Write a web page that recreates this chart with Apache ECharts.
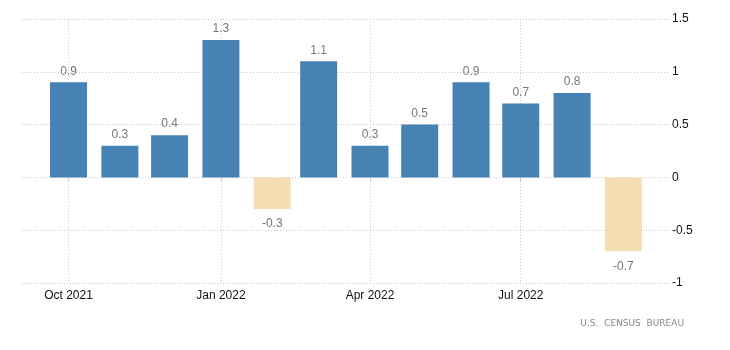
<!DOCTYPE html>
<html><head><meta charset="utf-8">
<script src="https://cdn.jsdelivr.net/npm/echarts@6/dist/echarts.min.js"></script>
<style>html,body{margin:0;padding:0;background:#fff}#c{width:730px;height:350px}</style>
</head><body><div id="c"></div>
<script>
const months = ['2021-10-01','2021-11-01','2021-12-01','2022-01-01','2022-02-01','2022-03-01','2022-04-01','2022-05-01','2022-06-01','2022-07-01','2022-08-01','2022-09-01'];
const values = [0.9, 0.3, 0.4, 1.3, -0.3, 1.1, 0.3, 0.5, 0.9, 0.7, 0.8, -0.7];
const tickDates = ['2021-10-01','2022-01-01','2022-04-01','2022-07-01'];
const tickLabels = ['Oct 2021','Jan 2022','Apr 2022','Jul 2022'];
const yTicks = [-1, -0.5, 0, 0.5, 1, 1.5];

const DAY = 86400000;
const base = new Date('2021-10-01T00:00:00Z').getTime();
const day = d => Math.round((new Date(d + 'T00:00:00Z').getTime() - base) / DAY);
const tickDays = tickDates.map(day);

const chart = echarts.init(document.getElementById('c'));
chart.setOption({
  animation: false,
  textStyle: {fontFamily: 'Liberation Sans, Arial, sans-serif'},
  grid: {left: 22, right: 61, top: 19, bottom: 67},
  xAxis: {
    type: 'value',
    min: -28.1,
    max: day('2022-09-01') + 27.5,
    axisLine: {show: false},
    axisTick: {show: true, length: 4, lineStyle: {color: '#ccc'}, customValues: tickDays},
    axisLabel: {
      customValues: tickDays,
      color: '#111', fontSize: 12, margin: 7,
      formatter: v => { const i = tickDays.indexOf(v); return i >= 0 ? tickLabels[i] : ''; }
    },
    splitLine: {show: true, lineStyle: {color: '#c8c8c8', type: [1, 2], width: 1}}
  },
  yAxis: {
    type: 'value', position: 'right',
    min: yTicks[0], max: yTicks[yTicks.length - 1], interval: 0.5,
    axisLine: {show: false}, axisTick: {show: false},
    axisLabel: {color: '#111', fontSize: 12, margin: 3, formatter: v => String(v)},
    splitLine: {show: true, lineStyle: {color: '#c8c8c8', type: [1, 2], width: 1}}
  },
  series: [{
    type: 'bar',
    barWidth: 37,
    data: months.map((m, i) => ({
      value: [day(m), values[i]],
      itemStyle: {color: values[i] >= 0 ? '#4682b4' : '#f5deb3'},
      label: {show: true, position: values[i] >= 0 ? 'top' : 'bottom', distance: values[i] >= 0 ? 5 : 9,
              color: '#777', fontSize: 12, formatter: () => String(values[i])}
    }))
  }],
  graphic: [{
    type: 'text', right: 46, top: 319,
    style: {text: 'U.S.  CENSUS  BUREAU', fill: '#888', fontSize: 9, fontFamily: 'DejaVu Sans, sans-serif'}
  }]
});
</script></body></html>
